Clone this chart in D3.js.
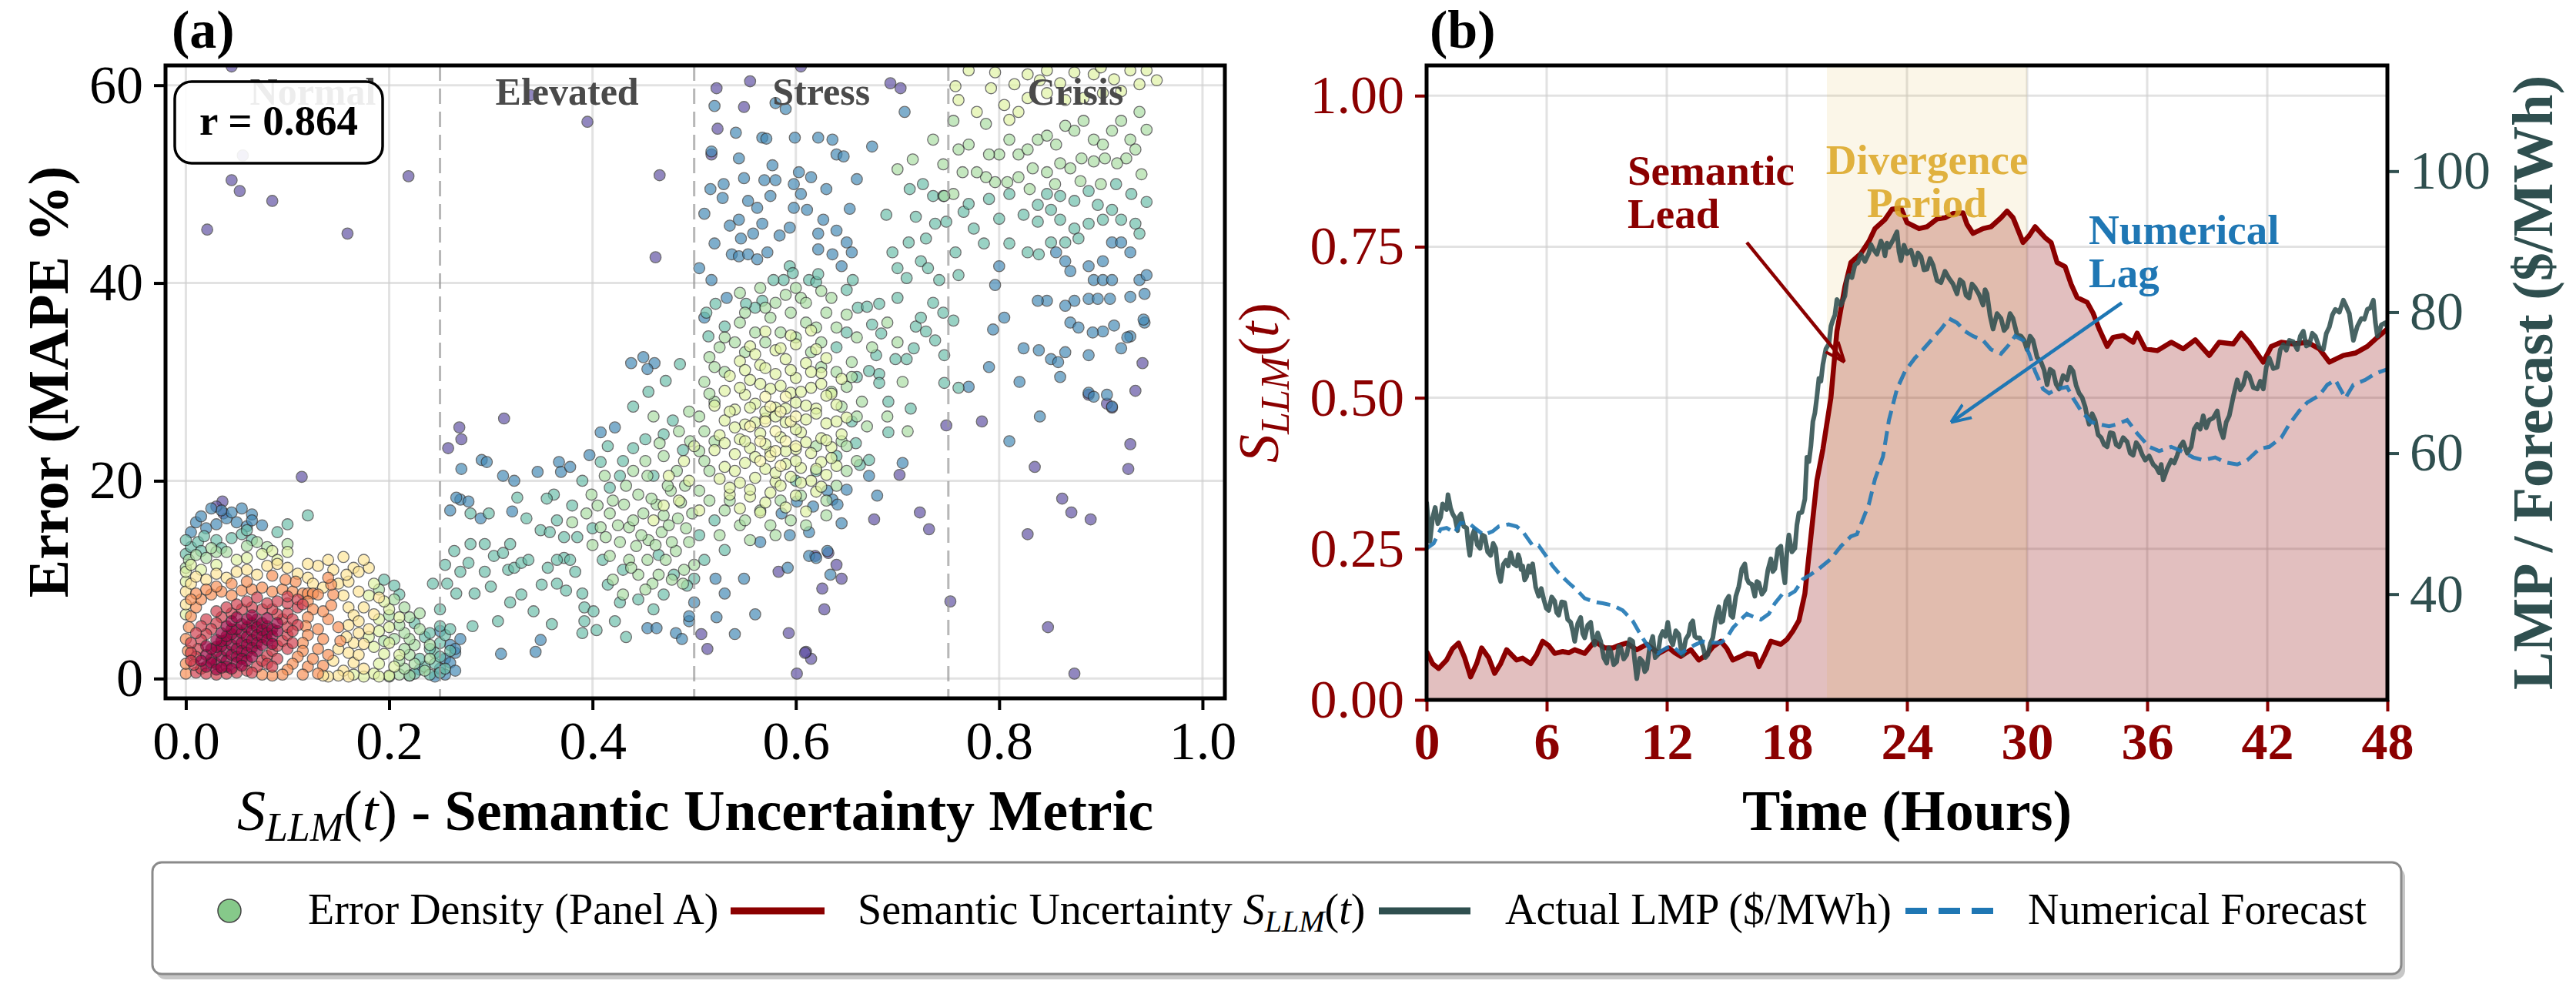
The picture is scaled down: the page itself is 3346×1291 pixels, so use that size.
<!DOCTYPE html>
<html><head><meta charset="utf-8">
<script src="https://cdn.jsdelivr.net/npm/d3@7"></script>
<style>
body{margin:0;background:#fff}
svg{display:block}
text{font-family:"Liberation Serif","Times New Roman",serif;white-space:pre}
</style></head>
<body><svg id="c" width="3346" height="1291"></svg>
<script>
// ---------------- DATA ----------------
const regimeNames = ["Normal","Elevated","Stress","Crisis"];
const regimeCenters = [0.125,0.375,0.625,0.875];
const regimeBounds = [0.25,0.5,0.75];
const corrR = 0.864;
const xTicksA = [0,0.2,0.4,0.6,0.8,1.0];
const yTicksA = [0,20,40,60];
const xTicksB = [0,6,12,18,24,30,36,42,48];
const yTicksB = [0,0.25,0.5,0.75,1.0];
const yTicksR = [40,60,80,100];
const divergence = [20,30];
const densityLevels = [0.0,0.1,0.2,0.3,0.4,0.5,0.58,0.75,0.9,1.0];

const scatterPurple = [[.021,45.4],[.045,50.4],[.053,49.3],[.085,48.3],[.159,45.0],[.219,50.8],[.045,61.9],[.056,52.9],[.114,20.4],[.036,17.9],[.037,16.7],[.030,17.4],
[.395,56.3],[.339,59.0],[.466,50.9],[.462,42.6],[.313,26.3],[.269,25.4],[.271,24.2],[.258,23.3],
[.522,59.7],[.555,60.4],[.549,57.8],[.605,61.9],[.523,55.6],[.517,53.0],[.601,0.5],[.615,2.0],[.610,2.7],[.513,3.0],[.593,4.6],[.628,7.0],[.626,9.1],[.632,12.7],[.619,12.4],[.583,10.8],[.609,2.6],[.645,10.1],[.640,11.5],[.677,16.1],[.702,20.6],[.722,16.8],[.731,15.1],[.693,60.2],[.703,59.7],[.752,7.8],[.507,4.5],
[.783,26.0],[.748,25.6],[.835,21.4],[.828,14.6],[.862,18.2],[.871,16.8],[.890,16.1],[.848,5.2],[.874,0.5],[.929,23.7],[.927,21.2],[.888,28.7],[.911,27.4],[.934,29.1],[.906,27.8],[.941,31.9]];

const scatterBlue = [[.22,0.3],[.23,0.9],[.245,0.2],[.25,1.0],[.255,0.4],[.255,2.0],[.26,1.6],[.265,0.8],[.26,3.4],[.265,2.6],[.27,4.0],[.25,4.8],[.265,3.0],[.005,14.8],[.01,15.8],[.02,15.2],[.015,16.4],[.03,15.6],[.04,16.2],[.05,15.8],[.045,16.8],[.055,17.2],[.065,16.6],[.035,17.0],[.025,17.2],[.06,15.4],[.075,15.5],[.065,16.0],
[.271,21.2],[.27,18.1],[.266,18.3],[.278,17.9],[.291,22.1],[.296,21.9],[.312,20.5],[.323,20.0],[.346,20.9],[.367,21.9],[.369,20.9],[.378,21.4],[.397,22.6],[.408,24.9],[.422,25.4],[.438,31.9],[.45,32.5],[.461,31.9],[.454,31.3],[.321,16.9],[.349,3.9],[.344,2.7],[.31,2.5],[.454,5.1],[.463,5.1],[.482,4.6],[.495,5.8],[.495,6.3],[.5,7.7],[.488,4.0],[.29,16.2],[.26,17.0],
[.516,49.5],[.517,53.3],[.544,52.6],[.544,46.4],[.567,54.7],[.571,54.6],[.599,54.7],[.622,54.7],[.636,54.5],[.64,53.0],[.647,52.8],[.675,53.8],[.577,51.9],[.569,50.4],[.58,50.4],[.603,51.2],[.615,50.7],[.598,50.0],[.549,50.6],[.529,50.0],[.528,48.6],[.553,48.3],[.562,47.6],[.567,46.0],[.598,47.6],[.611,47.4],[.627,46.4],[.622,45.0],[.64,45.3],[.653,47.5],[.594,45.6],[.584,44.8],[.546,44.5],[.558,45.0],[.537,42.9],[.544,42.7],[.553,42.9],[.562,42.4],[.572,43.1],[.517,40.3],[.622,43.4],[.636,42.9],[.65,44.1],[.645,41.7],[.655,43.1],[.51,47.0],[.52,44.0],[.505,41.5],[.532,38.5],[.51,36.5],[.707,57.3],[.541,55.2],[.59,57.6],[.58,58.2],[.52,57.9],[.605,49.0],[.63,49.5],[.66,50.5],[.535,45.8],[.575,48.8],
[.617,17.4],[.601,17.9],[.586,16.7],[.594,14.5],[.613,14.8],[.645,15.7],[.636,18.1],[.631,19.0],[.65,19.1],[.641,17.6],[.613,12.4],[.62,12.2],[.631,12.9],[.634,10.5],[.592,11.2],[.549,10.1],[.53,8.6],[.521,10.1],[.565,13.8],[.56,6.5],[.54,4.5],[.522,6.2],[.672,20.5],[.68,18.5],[.705,21.8],
[.856,43.1],[.865,42.2],[.87,41.2],[.888,41.7],[.902,42.2],[.911,44.1],[.92,44.1],[.929,43.1],[.893,40.3],[.902,40.3],[.911,40.3],[.888,38.4],[.897,38.4],[.909,38.4],[.938,40.3],[.945,40.8],[.929,38.6],[.943,38.9],[.874,38.2],[.865,37.7],[.847,38.2],[.838,38.2],[.796,39.8],[.8,41.7],[.794,35.3],[.805,36.5],[.824,33.4],[.839,33.2],[.851,32.3],[.858,32.0],[.865,33.0],[.87,36.0],[.878,35.5],[.888,32.7],[.902,35.1],[.92,33.4],[.929,34.6],[.943,36.0],[.888,28.9],[.893,28.5],[.906,28.7],[.911,27.5],[.892,35.0],[.913,35.7],[.926,34.5],[.942,36.3],[.86,30.5],[.82,30.0],[.84,26.5],[.81,24.0],[.77,29.5],[.79,31.5]];

const scatterTeal = [[.225,0.5],[.235,1.2],[.24,0.4],[.245,1.5],[.25,0.6],[.23,2.0],[.245,2.6],[.24,3.0],[.25,2.2],[.235,4.2],[.24,4.6],[.25,3.6],[.255,4.4],[.225,5.6],[.0,12.6],[.005,13.3],[.012,13.8],[.0,14.0],[.018,14.4],[.03,14.0],[.035,13.2],[.045,14.2],[.055,14.6],[.06,15.0],[.065,14.0],[.015,12.9],[.25,5.3],[.255,1.0],[.26,2.8],[.26,5.0],[.12,16.5],[.21,8.5],[.195,10.0],[.205,9.4],[.09,14.8],[.1,15.6],
[.243,9.6],[.257,9.6],[.264,12.9],[.266,8.6],[.284,8.6],[.278,11.7],[.28,13.6],[.294,13.6],[.294,10.8],[.303,12.4],[.312,12.7],[.319,13.6],[.317,11.0],[.323,11.2],[.33,11.7],[.337,12.0],[.319,7.7],[.307,5.8],[.282,5.3],[.342,6.8],[.349,15.0],[.358,14.8],[.365,16.0],[.372,14.3],[.372,12.2],[.385,14.3],[.378,12.0],[.365,12.0],[.356,11.2],[.365,9.6],[.374,8.9],[.383,10.8],[.39,8.6],[.392,7.2],[.401,6.8],[.392,5.8],[.404,4.9],[.39,4.6],[.422,5.8],[.427,7.7],[.433,4.2],[.362,18.6],[.39,20.0],[.408,21.9],[.417,19.3],[.427,20.5],[.44,23.3],[.452,24.2],[.47,24.7],[.479,26.1],[.489,23.1],[.472,30.1],[.486,31.8],[.28,16.7],[.298,16.7],[.326,18.3],[.335,16.2],[.5,10.1],[.493,9.4],[.445,8.0],[.46,7.0],[.415,9.5],[.43,11.0],[.35,9.5],[.33,8.5],[.3,9.3],[.27,10.8],[.255,11.5],[.25,7.0],[.36,5.5],[.47,8.5],[.48,10.5],[.465,12.5],[.41,12.0],[.355,18.2],[.38,17.5],[.4,15.2],[.44,27.5],[.455,29.0],[.43,22.0],[.415,23.5],[.46,20.5],
[.594,41.7],[.597,41.0],[.613,40.3],[.62,40.1],[.622,40.9],[.588,40.3],[.578,40.3],[.567,38.2],[.56,37.5],[.551,37.9],[.521,37.9],[.512,37.0],[.53,35.6],[.514,34.6],[.65,39.3],[.656,40.3],[.661,37.5],[.67,37.6],[.682,37.9],[.675,35.8],[.684,34.9],[.689,46.9],[.711,44.1],[.718,46.7],[.728,44.5],[.737,46.0],[.723,42.2],[.73,41.5],[.741,40.3],[.748,46.2],[.757,43.1],[.76,40.8],[.695,43.1],[.7,41.5],[.709,40.5],[.718,35.6],[.723,36.5],[.728,35.1],[.737,34.2],[.746,32.7],[.698,32.3],[.709,32.3],[.716,33.4],[.746,29.9],[.76,29.4],[.691,28.0],[.713,27.3],[.682,30.8],[.672,31.1],[.682,29.9],[.679,32.7],[.659,23.8],[.672,22.1],[.663,21.6],[.691,24.9],[.505,14.5],[.51,12.0],[.52,16.0],[.53,13.0],[.6,20.0],[.62,21.0],[.64,22.5],[.655,26.0],[.64,33.5],[.66,30.5],[.65,35.0],[.7,38.5],[.735,38.0],[.745,37.0],[.755,36.2],[.765,47.2],[.775,45.5],[.712,49.5],[.725,50.0],[.735,48.8],[.745,48.8],
[.847,49.0],[.86,48.8],[.874,48.3],[.888,49.3],[.897,47.9],[.911,47.4],[.92,46.4],[.934,46.0],[.938,45.0],[.902,46.4],[.888,46.0],[.874,45.5],[.86,46.4],[.851,47.4],[.838,47.9],[.824,46.9],[.838,46.2],[.828,43.1],[.839,42.9],[.851,44.1],[.865,44.1],[.878,44.5],[.915,50.0],[.93,49.0],[.945,48.2],[.81,44.0],[.8,46.5],[.785,44.0],[.77,48.0],[.79,48.5],[.81,49.0]];

const scatterGreen = [[.2,0.2],[.21,0.4],[.22,0.3],[.215,1.0],[.225,1.5],[.21,1.8],[.22,2.4],[.215,3.0],[.225,3.4],[.22,4.0],[.215,4.6],[.23,5.0],[.21,5.4],[.205,4.0],[.195,3.8],[.2,6.4],[.22,6.2],[.23,6.6],[.24,2.0],[.235,0.8],[.24,3.4],[.0,11.2],[.003,12.0],[.01,12.5],[.02,12.2],[.03,12.8],[.025,13.2],[.04,12.8],[.06,13.4],[.07,13.8],[.08,13.3],[.1,13.6],[.205,8.0],[.19,9.0],[.215,7.2],
[.408,15.3],[.413,14.3],[.417,12.4],[.427,13.8],[.436,15.3],[.436,12.0],[.443,13.4],[.445,10.5],[.45,16.7],[.454,12.0],[.459,9.6],[.463,17.6],[.468,14.8],[.472,12.0],[.477,19.0],[.482,12.9],[.484,16.2],[.489,9.6],[.491,19.5],[.495,13.8],[.498,16.7],[.5,11.5],[.454,20.5],[.445,18.6],[.431,17.6],[.417,16.7],[.394,16.7],[.399,18.6],[.42,18.0],[.44,16.0],[.455,14.0],[.475,15.5],[.465,10.5],[.49,11.0],[.47,22.5],[.485,25.0],[.495,27.0],[.46,26.5],[.38,15.8],[.4,13.5],[.42,10.0],[.43,8.5],
[.405,17.5],[.412,20.5],[.425,15.5],[.433,19.5],[.438,11.2],[.448,14.5],[.452,22.0],[.458,18.2],[.462,13.5],[.47,16.5],[.474,19.5],[.478,13.8],[.483,21.0],[.487,17.8],[.492,15.2],[.496,24.0],[.478,10.0],[.452,9.0],[.44,21.0],[.466,23.8],
[.505,19.0],[.51,22.0],[.505,26.5],[.51,30.0],[.515,32.5],[.52,28.0],[.525,33.5],[.53,31.0],[.54,34.0],[.545,36.0],[.55,33.0],[.56,35.0],[.57,34.0],[.575,36.5],[.585,35.0],[.595,37.0],[.6,34.5],[.605,38.5],[.61,36.0],[.615,33.0],[.62,35.5],[.625,31.5],[.63,37.0],[.635,29.0],[.64,31.0],[.645,27.5],[.65,29.5],[.655,32.0],[.645,24.0],[.64,19.5],[.63,16.5],[.62,23.5],[.605,18.5],[.595,16.0],[.585,18.0],[.575,15.5],[.565,17.0],[.555,14.0],[.545,15.5],[.535,18.0],[.525,14.5],[.515,18.0],[.52,24.0],[.665,28.0],[.67,25.5],[.66,34.5],[.675,33.5],[.69,36.0],[.7,34.0],[.705,30.0],[.69,26.5],[.71,25.0],[.6,39.5],[.58,38.0],[.565,39.5],[.545,39.0],[.635,38.5],[.65,36.8],[.625,39.2],[.66,22.0],[.65,21.0],
[.51,25.0],[.515,28.8],[.52,31.5],[.53,34.5],[.55,37.0],[.57,37.5],[.59,38.8],[.61,38.0],[.625,34.0],[.64,35.5],[.655,30.5],[.66,26.5],[.65,23.5],[.63,18.0],[.61,15.5],[.58,14.5],[.55,16.0],[.53,17.0],[.515,21.0],[.505,23.0],
[.81,54.5],[.819,53.0],[.828,53.5],[.838,54.5],[.847,54.9],[.856,54.0],[.865,55.9],[.874,55.4],[.883,56.4],[.893,54.5],[.902,54.0],[.911,55.4],[.92,56.4],[.929,54.5],[.938,57.3],[.925,52.6],[.934,53.5],[.916,52.1],[.904,52.6],[.893,52.3],[.881,52.6],[.87,51.6],[.86,52.1],[.847,51.2],[.833,51.6],[.819,50.7],[.808,50.2],[.796,50.2],[.787,50.7],[.778,51.2],[.764,51.2],[.755,49.0],[.746,48.8],[.787,56.1],[.755,56.4],[.8,53.0],[.83,49.5],[.855,50.0],[.88,50.3],[.9,50.0],[.94,51.0],[.945,55.5],[.77,54.0],[.79,53.0],[.76,53.5],[.745,52.0],[.735,54.5],[.715,52.5],[.7,51.5]];

const scatterYellowGreen = [[.0,6.5],[.0,9.8],[.0,10.8],[.005,11.5],[.015,11.0],[.03,11.5],[.05,12.0],[.06,12.2],[.075,12.6],[.085,12.9],[.09,12.0],[.1,12.8],[.185,0.5],[.19,1.5],[.195,2.5],[.185,3.2],[.18,4.2],[.19,4.8],[.19,6.0],[.2,7.0],[.195,7.8],[.18,8.4],[.185,9.6],[.2,0.3],[.205,1.2],[.21,2.4],[.2,3.6],[.2,5.2],[.21,6.2],[.175,0.2],[.19,0.2],[.165,0.4],
[.545,17.2],[.565,16.8],[.59,17.3],[.61,16.9],[.535,18.6],[.555,18.4],[.575,18.8],[.6,18.5],[.62,18.9],[.525,20.2],[.545,19.8],[.56,20.3],[.58,19.9],[.595,20.4],[.615,20.0],[.63,20.6],[.53,21.4],[.55,21.8],[.57,21.2],[.59,21.7],[.605,21.3],[.625,21.9],[.64,21.5],[.52,23.1],[.54,22.7],[.555,23.3],[.575,22.9],[.6,23.2],[.615,22.8],[.635,23.4],[.525,24.6],[.545,24.2],[.565,24.8],[.585,24.4],[.605,24.9],[.625,24.3],[.645,24.7],[.53,26.1],[.55,25.7],[.57,26.3],[.59,25.9],[.61,26.2],[.63,25.8],[.65,26.4],[.52,27.6],[.54,27.2],[.56,27.8],[.58,27.4],[.6,27.9],[.62,27.3],[.64,27.7],[.53,29.1],[.55,28.7],[.575,29.3],[.595,28.9],[.615,29.4],[.635,28.8],[.535,30.6],[.555,30.2],[.58,30.8],[.6,30.4],[.625,30.9],[.645,30.3],[.545,32.1],[.565,31.7],[.59,32.3],[.61,31.9],[.63,32.4],[.555,33.6],[.58,33.2],[.6,33.8],[.62,33.3],[.57,35.1],[.595,34.7],[.615,35.2],[.495,20.0],[.49,22.0],[.485,18.0],[.5,23.5],[.505,17.0],[.47,17.5],[.46,16.0],[.475,20.5],
[.535,19.3],[.555,19.1],[.57,17.8],[.585,19.5],[.605,19.8],[.625,19.4],[.54,21.0],[.56,22.4],[.58,20.8],[.6,22.0],[.62,21.2],[.635,22.3],[.53,23.8],[.55,24.0],[.57,23.7],[.59,23.0],[.61,23.9],[.63,24.1],[.54,25.4],[.56,25.9],[.58,26.5],[.6,25.2],[.62,26.8],[.64,26.0],[.535,27.0],[.555,27.4],[.57,27.0],[.59,27.3],[.61,27.6],[.63,28.6],[.545,29.4],[.565,29.8],[.585,29.6],[.605,29.0],[.625,29.8],[.55,31.2],[.57,31.4],[.595,31.2],[.615,31.0],[.56,32.8],[.585,33.4],
[.796,61.3],[.815,60.1],[.828,61.1],[.847,61.5],[.874,61.3],[.893,61.1],[.913,60.6],[.929,61.5],[.945,61.5],[.938,60.1],[.92,59.4],[.902,59.2],[.883,58.7],[.865,58.5],[.847,59.2],[.828,58.7],[.819,57.3],[.805,58.0],[.792,59.7],[.778,57.3],[.757,59.9],[.76,58.5],[.86,60.2],[.84,60.5],[.9,61.8],[.955,60.5],[.81,56.5],[.77,61.5]];

const scatterPaleYellow = [[.565,24.0],[.57,26.0],[.575,22.5],[.58,25.0],[.585,27.0],[.59,24.0],[.595,26.0],[.58,23.0],[.575,27.5],[.6,23.5],[.565,22.0],[.585,21.5],[.59,28.5],[.57,28.5],[.555,25.5],[.6,26.5]];

const scatterYellow = [[.0,7.5],[.0,8.8],[.005,9.6],[.01,10.3],[.02,10.0],[.03,10.6],[.04,10.2],[.05,10.8],[.06,11.0],[.07,10.5],[.08,11.4],[.09,11.6],[.1,11.2],[.11,10.6],[.12,10.2],[.125,9.6],[.135,9.2],[.15,9.6],[.155,8.4],[.16,7.2],[.165,6.4],[.16,5.4],[.17,4.6],[.165,3.6],[.16,2.6],[.165,1.6],[.155,0.8],[.15,0.3],[.14,0.2],[.145,1.8],[.15,3.0],[.158,4.2],[.17,2.4],[.175,1.0],[.17,5.8],[.175,7.2],[.17,8.8],[.16,9.8],[.165,11.2],[.17,10.8],[.18,11.2],[.175,12.0],[.158,10.5],[.145,11.0],[.13,11.4],[.12,11.6],[.135,0.3],[.16,0.2],[.175,3.5],[.18,5.0],[.185,6.5],[.19,8.2],[.155,12.3],[.14,12.0]];

const scatterOrange = [[.0,0.5],[.0,1.5],[.002,2.8],[.0,4.0],[.003,5.2],[.005,6.3],[.01,7.2],[.015,8.0],[.025,8.5],[.035,8.8],[.045,8.4],[.055,8.9],[.065,9.0],[.075,9.2],[.085,8.8],[.095,9.0],[.105,8.8],[.115,8.6],[.12,8.6],[.125,8.6],[.13,8.5],[.12,7.8],[.125,7.0],[.12,6.2],[.118,5.3],[.12,4.4],[.115,3.6],[.115,2.8],[.11,2.2],[.105,1.5],[.1,0.9],[.095,0.4],[.085,0.3],[.075,0.4],[.12,1.2],[.125,2.0],[.13,3.0],[.135,4.0],[.13,5.0],[.14,6.0],[.135,6.8],[.143,7.4],[.145,8.5],[.143,9.5],[.14,10.2],[.108,9.8],[.098,10.0],[.085,10.4],[.06,9.8],[.045,9.6],[.03,9.3],[.02,9.0],[.01,8.6],[.005,8.0],[.15,5.2],[.152,3.8],[.14,2.4],[.135,1.3],[.13,0.5],[.115,0.4]];

const scatterRed = [[.01,0.6],[.015,1.0],[.02,0.5],[.03,0.4],[.04,0.5],[.05,0.6],[.06,0.8],[.07,1.2],[.075,1.8],[.08,2.3],[.085,2.8],[.09,3.3],[.095,3.8],[.1,4.4],[.1,5.2],[.095,6.0],[.09,6.5],[.085,7.0],[.075,7.0],[.065,7.2],[.055,7.0],[.045,6.6],[.035,6.2],[.03,5.6],[.025,5.0],[.02,4.5],[.015,3.9],[.012,3.0],[.01,2.2],[.008,1.4],[.1,6.6],[.105,6.0],[.11,5.4],[.105,4.8],[.11,7.2],[.1,7.6],[.09,7.8],[.08,7.6],[.06,7.8],[.05,7.5],[.04,7.2],[.03,6.8],[.02,6.0],[.015,5.3],[.01,4.6],[.005,3.6],[.005,2.6],[.005,1.8],[.09,2.0],[.1,3.0],[.105,3.6],[.08,1.5],[.065,0.6],[.085,1.2],[.11,8.0],[.115,7.5],[.1,8.3],[.07,8.2]];

const scatterCrimson = [[.03,1.5],[.035,2.2],[.04,2.8],[.045,3.4],[.05,4.0],[.055,4.6],[.06,5.2],[.065,5.6],[.07,6.0],[.04,1.8],[.045,2.4],[.05,3.0],[.055,3.6],[.06,4.2],[.065,4.8],[.07,5.2],[.075,5.6],[.025,2.0],[.03,2.7],[.035,3.3],[.04,3.9],[.045,4.5],[.05,5.0],[.055,5.5],[.06,6.0],[.05,2.2],[.055,2.8],[.06,3.4],[.065,3.9],[.07,4.4],[.075,4.9],[.08,5.3],[.02,1.2],[.025,1.6],[.03,3.2],[.035,3.8],[.04,4.3],[.045,5.0],[.05,1.6],[.06,2.6],[.065,3.1],[.07,3.6],[.075,4.2],[.08,4.6],[.085,5.0],[.03,0.9],[.04,1.2],[.055,2.0],[.02,2.4],[.025,3.0],[.03,3.9],[.035,4.6],[.04,5.3],[.045,5.8],[.07,2.8],[.075,3.4],[.08,3.9],[.085,4.3],[.09,4.8],[.06,1.8],[.045,1.0],[.035,1.1],[.015,1.8],[.02,3.3],[.05,6.2],[.065,6.4],[.08,6.1],[.09,5.6],[.085,3.5],[.065,2.2],[.055,1.3]];

const scatterSets = [scatterPurple,scatterBlue,scatterTeal,scatterGreen,scatterYellowGreen,scatterPaleYellow,scatterYellow,scatterOrange,scatterRed,scatterCrimson];

// Panel (b) time series: [hour, value]
const sllmSeries = [[0,0.080],[0.3,0.06],[0.6,0.052],[1.0,0.066],[1.3,0.085],[1.6,0.094],[1.9,0.07],[2.2,0.038],[2.5,0.06],[2.75,0.086],[3.1,0.07],[3.4,0.044],[3.7,0.06],[4.0,0.083],[4.5,0.066],[4.8,0.069],[5.2,0.06],[5.5,0.075],[5.8,0.097],[6.1,0.09],[6.4,0.077],[6.8,0.08],[7.1,0.078],[7.4,0.083],[7.9,0.077],[8.4,0.097],[8.9,0.086],[9.3,0.086],[9.6,0.09],[10.0,0.094],[10.5,0.083],[11.0,0.092],[11.6,0.077],[12.1,0.086],[12.4,0.078],[12.7,0.072],[13.2,0.083],[13.6,0.066],[14.0,0.075],[14.3,0.088],[14.7,0.097],[15.0,0.085],[15.3,0.066],[15.7,0.072],[16.0,0.077],[16.4,0.075],[16.6,0.055],[16.9,0.075],[17.2,0.097],[17.7,0.092],[18.0,0.1],[18.3,0.114],[18.6,0.131],[18.9,0.176],[19.2,0.27],[19.5,0.363],[19.8,0.415],[20.2,0.50],[20.5,0.61],[20.9,0.684],[21.2,0.724],[21.7,0.739],[22.1,0.759],[22.4,0.78],[22.9,0.795],[23.25,0.812],[23.7,0.814],[24.0,0.79],[24.6,0.78],[25.0,0.783],[25.5,0.796],[25.9,0.798],[26.3,0.805],[26.8,0.806],[27.0,0.787],[27.3,0.772],[27.8,0.78],[28.2,0.783],[28.7,0.798],[29.0,0.809],[29.3,0.798],[29.8,0.757],[30.1,0.768],[30.4,0.783],[30.9,0.765],[31.2,0.757],[31.5,0.724],[31.9,0.717],[32.2,0.688],[32.5,0.666],[33.0,0.658],[33.3,0.64],[33.6,0.614],[34.0,0.585],[34.3,0.6],[34.8,0.603],[35.3,0.592],[35.5,0.607],[35.9,0.581],[36.5,0.578],[37.2,0.592],[37.8,0.581],[38.4,0.596],[39.1,0.57],[39.6,0.592],[40.3,0.589],[40.7,0.607],[41.1,0.592],[41.8,0.559],[42.2,0.585],[42.7,0.592],[43.3,0.589],[44.0,0.592],[44.6,0.581],[45.1,0.559],[45.8,0.57],[46.4,0.574],[47.0,0.585],[47.5,0.6],[48.0,0.614]];

const lmpSeries = [[0,53.1],[0.08,50.5],[0.17,47.5],[0.3,50.8],[0.43,52.3],[0.56,50.0],[0.7,50.9],[0.8,52.8],[0.9,52.5],[1.0,52.0],[1.07,54.1],[1.2,52.2],[1.3,51.4],[1.42,50.8],[1.55,49.0],[1.63,51.0],[1.72,51.4],[1.86,49.6],[2.0,49.4],[2.08,47.0],[2.16,45.5],[2.28,48.3],[2.4,49.2],[2.53,47.0],[2.67,46.5],[2.78,48.4],[2.9,48.2],[3.05,46.0],[3.2,45.5],[3.33,47.2],[3.45,46.5],[3.58,43.0],[3.7,41.8],[3.83,44.2],[3.97,44.8],[4.08,44.0],[4.2,45.9],[4.35,44.3],[4.5,44.0],[4.58,45.6],[4.65,45.0],[4.72,43.5],[4.8,44.0],[4.9,42.0],[5.0,42.5],[5.1,44.0],[5.2,43.1],[5.3,44.3],[5.45,41.0],[5.6,39.7],[5.73,40.8],[5.86,39.2],[5.98,38.0],[6.1,37.7],[6.25,39.6],[6.4,39.0],[6.5,37.4],[6.6,37.0],[6.75,38.9],[6.9,38.8],[7.05,36.4],[7.2,36.0],[7.3,34.8],[7.4,33.3],[7.55,35.8],[7.7,36.7],[7.8,34.4],[7.9,33.8],[8.05,35.6],[8.2,36.0],[8.3,33.8],[8.4,32.8],[8.55,34.5],[8.7,33.3],[8.85,31.0],[9.0,30.2],[9.1,32.4],[9.2,31.9],[9.35,30.0],[9.5,30.4],[9.6,32.6],[9.7,32.4],[9.85,30.8],[10.0,31.4],[10.15,33.6],[10.3,33.3],[10.4,30.5],[10.5,28.0],[10.65,30.9],[10.8,30.4],[10.9,29.0],[11.0,29.4],[11.15,32.5],[11.3,34.0],[11.42,31.0],[11.55,31.4],[11.68,33.9],[11.8,34.7],[11.93,34.0],[12.05,36.0],[12.18,33.6],[12.3,32.8],[12.45,34.8],[12.6,34.3],[12.7,32.4],[12.8,31.4],[12.95,33.6],[13.1,34.3],[13.2,35.8],[13.3,36.2],[13.4,34.0],[13.5,33.8],[13.65,33.8],[13.8,32.6],[13.93,31.0],[14.05,31.4],[14.18,33.0],[14.3,33.8],[14.45,36.6],[14.6,38.2],[14.7,36.0],[14.8,36.2],[14.95,39.0],[15.1,39.7],[15.2,37.0],[15.3,36.7],[15.45,39.7],[15.6,41.1],[15.75,43.6],[15.9,44.3],[16.0,42.2],[16.1,41.6],[16.25,41.4],[16.4,39.7],[16.5,41.8],[16.6,41.6],[16.75,40.0],[16.9,40.6],[17.05,43.4],[17.2,45.0],[17.3,43.2],[17.4,43.6],[17.55,46.4],[17.7,46.8],[17.8,43.5],[17.9,41.6],[18.0,46.0],[18.1,48.4],[18.25,46.0],[18.4,46.5],[18.5,49.8],[18.6,51.5],[18.75,51.6],[18.9,53.5],[19.0,59.4],[19.1,58.8],[19.2,61.0],[19.3,64.5],[19.4,65.7],[19.5,68.0],[19.6,70.6],[19.7,70.2],[19.8,72.6],[19.95,74.8],[20.1,75.5],[20.2,78.0],[20.3,78.9],[20.4,79.6],[20.5,81.8],[20.7,81.0],[20.9,82.3],[21.0,84.6],[21.1,85.2],[21.25,84.9],[21.4,86.7],[21.55,87.0],[21.7,88.2],[21.9,87.2],[22.1,88.4],[22.2,89.6],[22.3,89.0],[22.5,88.2],[22.7,90.1],[22.8,89.4],[22.9,88.0],[23.0,89.8],[23.1,89.2],[23.3,90.2],[23.5,91.4],[23.6,88.6],[23.7,87.3],[23.85,89.5],[24.0,88.3],[24.2,88.8],[24.4,86.7],[24.55,88.4],[24.7,87.9],[24.85,86.0],[25.0,86.1],[25.15,87.6],[25.3,86.7],[25.5,84.5],[25.7,84.2],[25.9,85.8],[26.1,84.8],[26.3,84.0],[26.5,82.6],[26.65,84.6],[26.8,84.2],[26.95,82.4],[27.1,82.0],[27.25,84.0],[27.4,83.5],[27.6,82.5],[27.8,81.0],[27.9,83.2],[28.0,82.6],[28.15,79.5],[28.3,77.6],[28.5,79.8],[28.7,79.1],[28.85,77.4],[29.0,77.9],[29.15,79.8],[29.3,79.1],[29.5,76.8],[29.7,76.6],[29.85,76.0],[30.0,74.7],[30.15,76.6],[30.3,76.0],[30.5,73.6],[30.7,72.9],[30.85,71.8],[31.0,69.7],[31.15,71.9],[31.3,71.6],[31.45,69.8],[31.6,69.1],[31.8,71.0],[32.0,70.4],[32.15,72.2],[32.3,71.6],[32.45,69.6],[32.6,68.5],[32.75,67.9],[32.9,66.6],[33.0,65.2],[33.1,64.1],[33.25,65.6],[33.4,64.7],[33.55,62.6],[33.7,62.2],[33.85,61.2],[34.0,60.9],[34.15,62.9],[34.3,62.8],[34.45,61.2],[34.6,60.9],[34.8,62.2],[35.0,61.6],[35.15,60.0],[35.3,59.7],[35.45,61.5],[35.6,60.9],[35.75,59.8],[35.9,59.0],[36.1,59.6],[36.3,58.4],[36.45,58.0],[36.6,57.2],[36.7,58.4],[36.8,56.2],[37.0,57.8],[37.2,59.0],[37.35,58.6],[37.5,59.7],[37.65,61.0],[37.8,61.6],[38.0,60.0],[38.2,60.9],[38.35,63.4],[38.5,64.1],[38.65,63.4],[38.8,65.3],[38.95,63.6],[39.1,64.7],[39.3,65.0],[39.5,66.0],[39.65,63.4],[39.8,62.2],[39.95,64.4],[40.1,65.3],[40.3,68.0],[40.5,70.4],[40.65,69.0],[40.8,69.7],[40.95,71.4],[41.1,71.0],[41.3,69.3],[41.5,69.1],[41.65,70.2],[41.8,69.1],[41.95,72.2],[42.1,73.5],[42.3,72.0],[42.5,72.2],[42.65,74.7],[42.8,75.4],[42.95,74.6],[43.1,76.0],[43.3,75.8],[43.5,74.7],[43.65,76.6],[43.8,77.3],[43.95,75.2],[44.1,75.4],[44.25,77.0],[44.4,76.6],[44.6,75.0],[44.8,74.7],[44.95,77.0],[45.1,77.9],[45.25,79.6],[45.4,80.4],[45.6,80.0],[45.8,81.7],[45.95,80.8],[46.1,79.8],[46.2,77.8],[46.3,76.0],[46.5,78.0],[46.7,79.1],[46.85,79.0],[47.0,80.4],[47.15,80.6],[47.3,81.7],[47.4,78.6],[47.5,76.6],[47.7,78.2],[47.9,78.5],[48.0,77.9]];

const forecastSeries = [[0,46.5],[0.35,47.2],[0.7,49.2],[1.0,49.4],[1.4,48.7],[1.7,50.1],[2.1,50.1],[2.4,49.4],[2.85,48.4],[3.3,48.9],[3.6,49.6],[4.1,49.9],[4.5,49.6],[4.8,48.9],[5.3,46.9],[5.6,46.9],[5.95,45.5],[6.3,44.0],[6.6,43.0],[7.1,41.6],[7.5,40.6],[7.9,39.4],[8.4,38.9],[8.8,38.7],[9.3,38.4],[9.8,37.7],[10.3,36.2],[10.6,34.7],[10.9,33.3],[11.2,32.1],[11.55,31.6],[12.0,32.4],[12.3,32.6],[12.7,31.6],[13.0,32.1],[13.4,32.8],[13.8,33.3],[14.2,33.1],[14.7,33.1],[15.0,33.8],[15.3,35.2],[15.7,36.4],[16.0,37.2],[16.4,36.7],[16.7,36.4],[17.1,37.2],[17.4,38.7],[17.8,40.1],[18.1,39.9],[18.4,40.4],[18.8,42.1],[19.2,42.8],[19.6,43.6],[20.2,45.0],[20.7,46.8],[21.2,48.2],[21.5,48.5],[21.7,49.9],[22.1,52.8],[22.4,56.3],[22.8,59.5],[23.1,64.7],[23.5,69.1],[23.9,71.6],[24.4,73.5],[24.8,74.7],[25.2,76.0],[25.7,77.6],[26.1,79.1],[26.5,78.5],[26.9,77.3],[27.3,76.6],[27.8,76.0],[28.2,74.7],[28.7,74.1],[29.1,75.4],[29.4,76.6],[29.8,76.0],[30.1,74.1],[30.4,71.6],[30.8,69.1],[31.1,68.5],[31.5,69.1],[32.0,69.4],[32.3,67.8],[32.7,66.0],[33.2,64.4],[33.6,64.1],[34.1,63.8],[34.5,64.1],[35.0,64.7],[35.5,62.8],[36.1,60.9],[36.6,60.3],[37.2,60.9],[37.7,60.3],[38.3,59.4],[38.8,59.0],[39.4,59.4],[39.9,58.7],[40.5,58.4],[41.0,59.0],[41.6,60.6],[42.1,60.9],[42.7,62.2],[43.1,64.1],[43.6,66.0],[44.0,67.2],[44.6,68.2],[45.0,69.7],[45.4,70.4],[45.9,67.8],[46.3,69.7],[46.9,70.4],[47.4,71.3],[48.0,71.9]];

// annotations (data coordinates of panel b, left axis)
const annSemantic = {lines:["Semantic","Lead"], at:[10.04,0.852], from:[16.0,0.757], to:[20.85,0.56]};
const annDivergence = {lines:["Divergence","Period"], at:[25,0.870]};
const annNumerical = {lines:["Numerical","Lag"], at:[33.08,0.754], from:[34.73,0.657], to:[26.23,0.46]};
const legendLabels = ["Error Density (Panel A)","Semantic Uncertainty ","Actual LMP ($/MWh)","Numerical Forecast"];

// ---------------- DRAW ----------------
const C = {red:"#8B0000", slate:"#2F4F4F", blue:"#1f77b4", gold:"#DAA520"};
const svg = d3.select("#c");
const defs = svg.append("defs");
function marker(id,color){
  defs.append("marker").attr("id",id).attr("viewBox","0 0 10 10").attr("refX",9.5).attr("refY",5)
   .attr("markerWidth",26).attr("markerHeight",26).attr("markerUnits","userSpaceOnUse").attr("orient","auto")
   .append("path").attr("d","M0,1 L10,5 L0,9").attr("fill","none").attr("stroke",color).attr("stroke-width",1.5);
}
marker("arR",C.red); marker("arB",C.blue);

// ===== Panel A =====
const A = {l:215,r:1591,t:85,b:907};
const xA = d3.scaleLinear().domain([-0.02,1.022]).range([A.l,A.r]);
const yA = d3.scaleLinear().domain([-2,62]).range([A.b,A.t]);
defs.append("clipPath").attr("id","clipA").append("rect").attr("x",A.l).attr("y",A.t).attr("width",A.r-A.l).attr("height",A.b-A.t);
const gA = svg.append("g");
const gridA = gA.append("g").attr("stroke","#cfcfcf").attr("stroke-opacity",0.6).attr("stroke-width",3);
xTicksA.forEach(v=>gridA.append("line").attr("x1",xA(v)).attr("x2",xA(v)).attr("y1",A.t).attr("y2",A.b));
yTicksA.forEach(v=>gridA.append("line").attr("y1",yA(v)).attr("y2",yA(v)).attr("x1",A.l).attr("x2",A.r));
const pts = gA.append("g").attr("clip-path","url(#clipA)");
scatterSets.forEach((set,i)=>{
  const col = d3.interpolateSpectral(1-densityLevels[i]);
  pts.selectAll(null).data(set).join("circle")
    .attr("cx",d=>xA(d[0])).attr("cy",d=>yA(d[1])).attr("r",7.2)
    .attr("fill",col).attr("stroke","#2a2a2a").attr("stroke-width",1.3).attr("opacity",0.68);
});
const gBounds = gA.append("g");
regimeBounds.forEach(v=>gBounds.append("line").attr("x1",xA(v)).attr("x2",xA(v)).attr("y1",A.t).attr("y2",A.b)
  .attr("stroke","#999").attr("stroke-opacity",0.7).attr("stroke-width",3).attr("stroke-dasharray","20 10"));
regimeNames.forEach((n,i)=>gA.append("text").attr("x",xA(regimeCenters[i])).attr("y",yA(58)).attr("text-anchor","middle")
  .attr("font-size",50).attr("font-weight","bold").attr("fill","#4a4a4a").text(n));
gA.append("rect").attr("x",227).attr("y",106).attr("width",270).attr("height",106).attr("rx",22)
  .attr("fill","#fff").attr("fill-opacity",0.9).attr("stroke","#000").attr("stroke-width",3.5);
gA.append("text").attr("x",362).attr("y",175).attr("text-anchor","middle").attr("font-size",55).attr("font-weight","bold")
  .text("r = "+corrR.toFixed(3));
// axes
const axA_x = gA.append("g").attr("transform",`translate(0,${A.b})`)
  .call(d3.axisBottom(xA).tickValues(xTicksA).tickFormat(d3.format(".1f")).tickSize(15).tickPadding(14));
const axA_y = gA.append("g").attr("transform",`translate(${A.l},0)`)
  .call(d3.axisLeft(yA).tickValues(yTicksA).tickSize(15).tickPadding(14));
[axA_x,axA_y].forEach(a=>{a.select(".domain").remove();a.selectAll("line").attr("stroke","#000").attr("stroke-width",4);
  a.selectAll("text").attr("font-size",70).attr("fill","#000").attr("font-family","Liberation Serif");});
gA.append("rect").attr("x",A.l).attr("y",A.t).attr("width",A.r-A.l).attr("height",A.b-A.t).attr("fill","none").attr("stroke","#000").attr("stroke-width",5);
gA.append("text").attr("x",A.l+8).attr("y",62).attr("font-size",70).attr("font-weight","bold").text("(a)");
// labels
const xlA = gA.append("text").attr("x",(A.l+A.r)/2).attr("y",1078).attr("text-anchor","middle").attr("font-size",74);
xlA.append("tspan").attr("font-style","italic").text("S");
xlA.append("tspan").attr("font-style","italic").attr("font-size",52).attr("dy",14).text("LLM");
xlA.append("tspan").attr("dy",-14).text("(");
xlA.append("tspan").attr("font-style","italic").text("t");
xlA.append("tspan").text(")");
xlA.append("tspan").attr("font-weight","bold").text(" - Semantic Uncertainty Metric");
gA.append("text").attr("transform",`translate(88,${(A.t+A.b)/2}) rotate(-90)`).attr("text-anchor","middle")
  .attr("font-size",74).attr("font-weight","bold").text("Error (MAPE %)");

// ===== Panel B =====
const B = {l:1853,r:3101,t:85,b:909};
const xB = d3.scaleLinear().domain([0,48]).range([B.l,B.r]);
const yB = d3.scaleLinear().domain([0,1.05]).range([B.b,B.t]);
const yR = d3.scaleLinear().domain([25,115]).range([B.b,B.t]);
defs.append("clipPath").attr("id","clipB").append("rect").attr("x",B.l).attr("y",B.t).attr("width",B.r-B.l).attr("height",B.b-B.t);
const gB = svg.append("g");
const gridB = gB.append("g").attr("stroke","#cfcfcf").attr("stroke-opacity",0.6).attr("stroke-width",3);
xTicksB.forEach(v=>gridB.append("line").attr("x1",xB(v)).attr("x2",xB(v)).attr("y1",B.t).attr("y2",B.b));
yTicksB.forEach(v=>gridB.append("line").attr("y1",yB(v)).attr("y2",yB(v)).attr("x1",B.l).attr("x2",B.r));
const plotB = gB.append("g").attr("clip-path","url(#clipB)");
plotB.append("path").datum(sllmSeries).attr("fill",C.red).attr("fill-opacity",0.25)
  .attr("d",d3.area().x(d=>xB(d[0])).y0(yB(0)).y1(d=>yB(d[1])));
plotB.append("rect").attr("x",xB(divergence[0])).attr("width",xB(divergence[1])-xB(divergence[0]))
  .attr("y",B.t).attr("height",B.b-B.t).attr("fill",C.gold).attr("fill-opacity",0.1);
plotB.append("path").datum(sllmSeries).attr("fill","none").attr("stroke",C.red).attr("stroke-width",6.5).attr("stroke-linejoin","round")
  .attr("d",d3.line().x(d=>xB(d[0])).y(d=>yB(d[1])));
plotB.append("path").datum(lmpSeries).attr("fill","none").attr("stroke",C.slate).attr("stroke-opacity",0.88).attr("stroke-width",6).attr("stroke-linejoin","round")
  .attr("d",d3.line().x(d=>xB(d[0])).y(d=>yR(d[1])));
plotB.append("path").datum(forecastSeries).attr("fill","none").attr("stroke",C.blue).attr("stroke-opacity",0.9).attr("stroke-width",5).attr("stroke-dasharray","18 9")
  .attr("d",d3.line().x(d=>xB(d[0])).y(d=>yR(d[1])));
// annotations
function multiText(ann,color,anchor){
  const t = gB.append("text").attr("x",xB(ann.at[0])).attr("y",yB(ann.at[1])).attr("text-anchor",anchor)
    .attr("font-size",55).attr("font-weight","bold").attr("fill",color);
  ann.lines.forEach((l,i)=>t.append("tspan").attr("x",xB(ann.at[0])).attr("dy",i?56:0).text(l));
  return t;
}
multiText(annSemantic,C.red,"start");
multiText(annDivergence,C.gold,"middle").attr("fill-opacity",0.85);
multiText(annNumerical,C.blue,"start");
gB.append("line").attr("x1",xB(annSemantic.from[0])).attr("y1",yB(annSemantic.from[1])).attr("x2",xB(annSemantic.to[0])).attr("y2",yB(annSemantic.to[1]))
  .attr("stroke",C.red).attr("stroke-width",4.5).attr("marker-end","url(#arR)");
gB.append("line").attr("x1",xB(annNumerical.from[0])).attr("y1",yB(annNumerical.from[1])).attr("x2",xB(annNumerical.to[0])).attr("y2",yB(annNumerical.to[1]))
  .attr("stroke",C.blue).attr("stroke-width",4.5).attr("marker-end","url(#arB)");
// axes
const axB_x = gB.append("g").attr("transform",`translate(0,${B.b})`).call(d3.axisBottom(xB).tickValues(xTicksB).tickSize(15).tickPadding(14));
const axB_y = gB.append("g").attr("transform",`translate(${B.l},0)`).call(d3.axisLeft(yB).tickValues(yTicksB).tickFormat(d3.format(".2f")).tickSize(15).tickPadding(14));
const axB_r = gB.append("g").attr("transform",`translate(${B.r},0)`).call(d3.axisRight(yR).tickValues(yTicksR).tickSize(15).tickPadding(14));
[[axB_x,C.red,"bold",68],[axB_y,C.red,"normal",70],[axB_r,C.slate,"normal",70]].forEach(([a,c,w,s])=>{
  a.select(".domain").remove(); a.selectAll("line").attr("stroke",c).attr("stroke-width",4);
  a.selectAll("text").attr("font-size",s).attr("font-weight",w).attr("fill",c).attr("font-family","Liberation Serif");});
gB.append("rect").attr("x",B.l).attr("y",B.t).attr("width",B.r-B.l).attr("height",B.b-B.t).attr("fill","none").attr("stroke","#000").attr("stroke-width",5);
gB.append("text").attr("x",B.l+4).attr("y",62).attr("font-size",70).attr("font-weight","bold").text("(b)");
gB.append("text").attr("x",(B.l+B.r)/2).attr("y",1078).attr("text-anchor","middle").attr("font-size",74).attr("font-weight","bold").text("Time (Hours)");
const ylB = gB.append("text").attr("transform",`translate(1660,${(B.t+B.b)/2}) rotate(-90)`).attr("text-anchor","middle").attr("font-size",74).attr("fill",C.red);
ylB.append("tspan").attr("font-style","italic").text("S");
ylB.append("tspan").attr("font-style","italic").attr("font-size",52).attr("dy",14).text("LLM");
ylB.append("tspan").attr("dy",-14).text("(");
ylB.append("tspan").attr("font-style","italic").text("t");
ylB.append("tspan").text(")");
gB.append("text").attr("transform",`translate(3315,${(B.t+B.b)/2}) rotate(-90)`).attr("text-anchor","middle")
  .attr("font-size",74).attr("font-weight","bold").attr("fill",C.slate).text("LMP / Forecast ($/MWh)");

// ===== Legend =====
const L = {x:198,y:1120,w:2921,h:145};
const gL = svg.append("g");
gL.append("rect").attr("x",L.x+5).attr("y",L.y+7).attr("width",L.w).attr("height",L.h).attr("rx",12).attr("fill","#999").attr("fill-opacity",0.55);
gL.append("rect").attr("x",L.x).attr("y",L.y).attr("width",L.w).attr("height",L.h).attr("rx",12).attr("fill","#fff").attr("stroke","#8a8a8a").attr("stroke-width",3);
const ly = 1183, lb = 1200;
gL.append("circle").attr("cx",298).attr("cy",ly).attr("r",15).attr("fill","#86c98a").attr("stroke","#444").attr("stroke-width",1.5);
gL.append("line").attr("x1",949).attr("x2",1071).attr("y1",ly).attr("y2",ly).attr("stroke",C.red).attr("stroke-width",9);
gL.append("line").attr("x1",1791).attr("x2",1910).attr("y1",ly).attr("y2",ly).attr("stroke",C.slate).attr("stroke-width",9);
gL.append("line").attr("x1",2475).attr("x2",2590).attr("y1",ly).attr("y2",ly).attr("stroke",C.blue).attr("stroke-width",8).attr("stroke-dasharray","28 15");
gL.append("text").attr("x",400).attr("y",lb).attr("font-size",56).text(legendLabels[0]);
const lt = gL.append("text").attr("x",1114).attr("y",lb).attr("font-size",56);
lt.append("tspan").text(legendLabels[1]);
lt.append("tspan").attr("font-style","italic").text("S");
lt.append("tspan").attr("font-style","italic").attr("font-size",40).attr("dy",10).text("LLM");
lt.append("tspan").attr("dy",-10).text("(");
lt.append("tspan").attr("font-style","italic").text("t");
lt.append("tspan").text(")");
gL.append("text").attr("x",1955).attr("y",lb).attr("font-size",56).text(legendLabels[2]);
gL.append("text").attr("x",2634).attr("y",lb).attr("font-size",56).text(legendLabels[3]);
</script></body></html>
